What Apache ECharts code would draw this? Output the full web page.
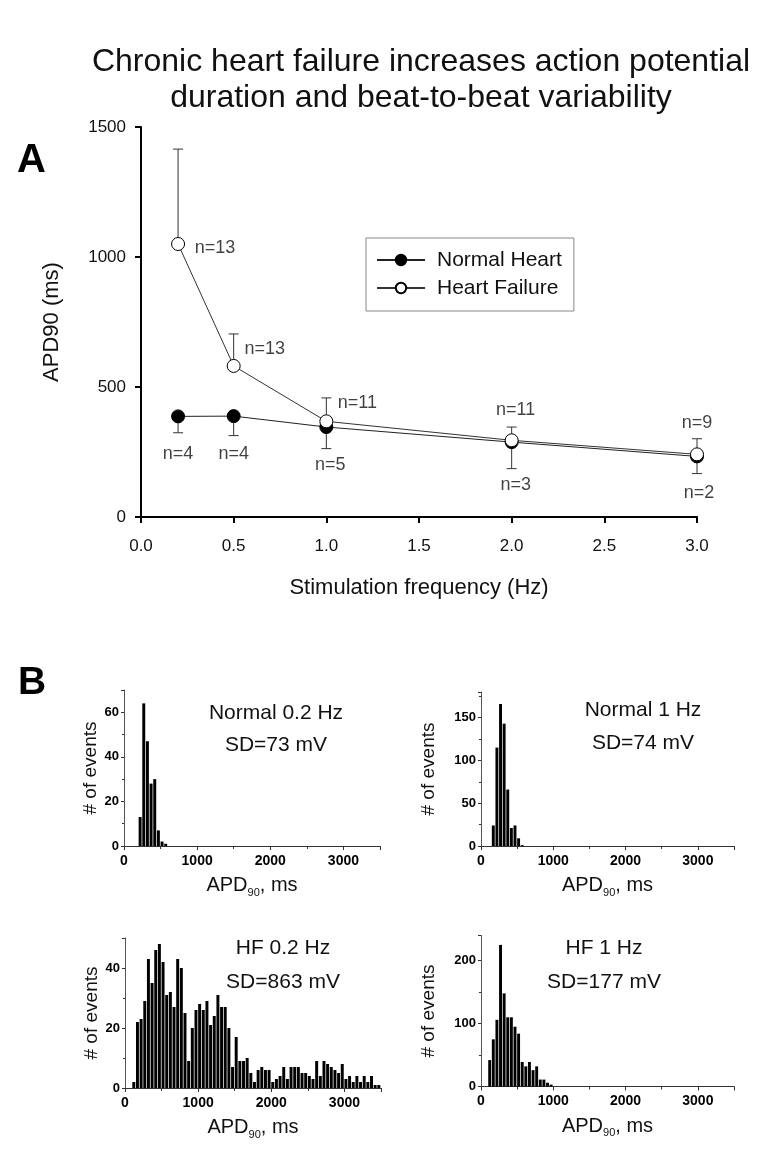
<!DOCTYPE html>
<html>
<head>
<meta charset="utf-8">
<script src="https://cdn.jsdelivr.net/npm/echarts@6/dist/echarts.min.js"></script>
<style>
html,body{margin:0;padding:0;background:#fff;}
#chart{width:769px;height:1162px;}
</style>
</head>
<body>
<div id="chart"></div>
<script>
// ---------- Panel A data ----------
const freqHz = [0.2, 0.5, 1.0, 2.0, 3.0];
const hfMean = [1050, 581, 368, 295, 241];
const hfErrTop = [1415, 704, 458, 346, 301];
const hfN = ['n=13', 'n=13', 'n=11', 'n=11', 'n=9'];
const nhMean = [387, 388, 346, 288, 233];
const nhErrBottom = [324, 313, 263, 186, 167];
const nhN = ['n=4', 'n=4', 'n=5', 'n=3', 'n=2'];

// ---------- Panel B data (histograms, 50 ms bins: left edge, count) ----------
const binWidthMs = 50;
const normal02Edges = [200, 250, 300, 350, 400, 450, 500, 550];
const normal02Counts = [13, 64, 47, 28, 30, 7, 2, 1];
const normal1Edges = [150, 200, 250, 300, 350, 400, 450, 500, 550];
const normal1Counts = [24, 115, 166, 143, 66, 21, 24, 9, 1];
const hf02Edges = [100, 150, 200, 250, 300, 350, 400, 450, 500, 550, 600, 650, 700, 750, 800, 850, 900, 950,
  1000, 1050, 1100, 1150, 1200, 1250, 1300, 1350, 1400, 1450, 1500, 1550, 1600, 1650, 1700, 1750, 1800, 1850,
  1900, 1950, 2000, 2050, 2100, 2150, 2200, 2250, 2300, 2350, 2400, 2450, 2500, 2550, 2600, 2650, 2700, 2750,
  2800, 2850, 2900, 2950, 3000, 3050, 3100, 3150, 3200, 3250, 3300, 3350, 3400, 3450];
const hf02Counts = [2, 22, 23, 29, 43, 35, 46, 48, 42, 31, 32, 27, 43, 40, 25, 9, 20, 26,
  28, 26, 29, 21, 24, 31, 27, 27, 20, 7, 17, 9, 9, 10, 5, 2, 6, 7,
  6, 6, 2, 3, 4, 7, 3, 7, 7, 7, 5, 5, 4, 3, 9, 4, 9, 8,
  7, 6, 5, 8, 3, 4, 2, 4, 2, 4, 2, 4, 1, 1];
const hf1Edges = [100, 150, 200, 250, 300, 350, 400, 450, 500, 550, 600, 650, 700, 750, 800, 850, 900, 950];
const hf1Counts = [42, 75, 106, 225, 148, 110, 110, 95, 84, 39, 32, 39, 26, 32, 11, 11, 6, 3];
const histTitles = ['Normal 0.2 Hz', 'Normal 1 Hz', 'HF 0.2 Hz', 'HF 1 Hz'];
const histSD = ['SD=73 mV', 'SD=74 mV', 'SD=863 mV', 'SD=177 mV'];

const FONT = '"Liberation Sans", Arial, Helvetica, sans-serif';
const chart = echarts.init(document.getElementById('chart'), null, {renderer: 'canvas'});

// label offsets (style) for the n= annotations
const hfLabelOffsets = [[37, 4], [31, -17], [31, -18], [4, -30], [0, -31]];
const nhLabelOffsets = [[0, 38], [0, 38], [4, 38], [4, 43], [2, 37]];

function zip(a, b) { return a.map((v, i) => [v, b[i]]); }

function errRender(params, api) {
  const x = api.value(0), m = api.value(1), e = api.value(2);
  const p0 = api.coord([x, m]);
  const p1 = api.coord([x, e]);
  const st = {stroke: '#333', lineWidth: 1};
  return {type: 'group', children: [
    {type: 'line', shape: {x1: p0[0], y1: p0[1], x2: p1[0], y2: p1[1]}, style: st},
    {type: 'line', shape: {x1: p1[0] - 5, y1: p1[1], x2: p1[0] + 5, y2: p1[1]}, style: st}
  ]};
}

function histRender(params, api) {
  const x0 = api.value(0), c = api.value(1);
  const pTop = api.coord([x0, c]);
  const pBot = api.coord([x0 + binWidthMs, 0]);
  return {type: 'rect', shape: {x: pTop[0], y: pTop[1], width: Math.max(0.5, pBot[0] - pTop[0] - 0.7), height: pBot[1] - pTop[1]},
    style: {fill: '#000'}};
}

const histGrids = [
  {left: 124, width: 256, top: 690, bottom: 316},
  {left: 481, width: 253, top: 692, bottom: 316},
  {left: 125, width: 256, top: 938, bottom: 74},
  {left: 481, width: 253, top: 935.5, bottom: 75.5}
];
const histY = [
  {max: 70, interval: 20},
  {max: 180, interval: 50},
  {max: 50, interval: 20},
  {max: 240, interval: 100}
];
const histData = [
  zip(normal02Edges, normal02Counts),
  zip(normal1Edges, normal1Counts),
  zip(hf02Edges, hf02Counts),
  zip(hf1Edges, hf1Counts)
];

const grids = [{left: 141, right: 72, top: 127, bottom: 645}].concat(histGrids);

const xAxes = [{
  gridIndex: 0, type: 'value', min: 0, max: 3, interval: 0.5,
  axisLine: {lineStyle: {color: '#000', width: 2}},
  axisTick: {length: 6, lineStyle: {color: '#000', width: 2}},
  splitLine: {show: false},
  axisLabel: {color: '#111', fontSize: 17, fontFamily: FONT, margin: 21, formatter: v => v.toFixed(1)},
  name: 'Stimulation frequency (Hz)', nameLocation: 'middle', nameGap: 60,
  nameTextStyle: {color: '#111', fontSize: 22, fontFamily: FONT}
}];
const yAxes = [{
  gridIndex: 0, type: 'value', min: 0, max: 1500, interval: 500,
  axisLine: {show: true, lineStyle: {color: '#000', width: 2}},
  axisTick: {show: true, length: 6, lineStyle: {color: '#000', width: 2}},
  splitLine: {show: false},
  axisLabel: {color: '#111', fontSize: 17, fontFamily: FONT, margin: 15, formatter: v => String(v)},
  name: 'APD90 (ms)', nameLocation: 'middle', nameGap: 78,
  nameTextStyle: {color: '#111', fontSize: 22, fontFamily: FONT}
}];

for (let i = 0; i < 4; i++) {
  xAxes.push({
    gridIndex: i + 1, type: 'value', min: 0, max: 3500, interval: 1000,
    axisLine: {lineStyle: {color: '#333', width: 1}},
    axisTick: {length: 4, lineStyle: {color: '#333'}},
    minorTick: {show: true, splitNumber: 2, length: 3, lineStyle: {color: '#333'}},
    splitLine: {show: false},
    axisLabel: {color: '#000', fontSize: 14, fontWeight: 'bold', fontFamily: FONT, margin: 8, showMaxLabel: false, formatter: v => String(v)},
    name: '{a|APD}{s|90}{a|, ms}', nameLocation: 'middle', nameGap: 27,
    nameTextStyle: {rich: {
      a: {fontSize: 20, fontFamily: FONT, color: '#111'},
      s: {fontSize: 11, fontFamily: FONT, color: '#111', padding: [14, 0, 0, 0]}
    }}
  });
  yAxes.push({
    gridIndex: i + 1, type: 'value', min: 0, max: histY[i].max, interval: histY[i].interval,
    axisLine: {show: true, lineStyle: {color: '#555', width: 1}},
    axisTick: {show: true, length: 3, lineStyle: {color: '#333'}},
    minorTick: {show: true, splitNumber: 2, length: 2, lineStyle: {color: '#333'}},
    splitLine: {show: false},
    axisLabel: {color: '#000', fontSize: 13, fontWeight: 'bold', fontFamily: FONT, margin: 5, showMaxLabel: false},
    name: '# of events', nameLocation: 'middle', nameGap: i % 2 === 0 ? 22 : 43,
    nameTextStyle: {color: '#111', fontSize: 19, fontFamily: FONT}
  });
}

const series = [
  {
    name: 'Normal Heart', type: 'line', xAxisIndex: 0, yAxisIndex: 0,
    data: zip(freqHz, nhMean), symbol: 'circle', symbolSize: 13,
    lineStyle: {color: '#222', width: 1}, itemStyle: {color: '#000', borderColor: '#000', borderWidth: 1},
    z: 3, animation: false
  },
  {
    type: 'custom', xAxisIndex: 0, yAxisIndex: 0, renderItem: errRender,
    data: freqHz.map((f, i) => [f, nhMean[i], nhErrBottom[i]]), z: 2, animation: false, silent: true
  },
  {
    type: 'custom', xAxisIndex: 0, yAxisIndex: 0, renderItem: errRender,
    data: freqHz.map((f, i) => [f, hfMean[i], hfErrTop[i]]), z: 2, animation: false, silent: true
  },
  {
    name: 'Heart Failure', type: 'line', xAxisIndex: 0, yAxisIndex: 0,
    data: zip(freqHz, hfMean), symbol: 'circle', symbolSize: 13,
    lineStyle: {color: '#333', width: 1}, itemStyle: {color: '#fff', borderColor: '#000', borderWidth: 1},
    z: 4, animation: false
  },
  {
    type: 'scatter', xAxisIndex: 0, yAxisIndex: 0, symbolSize: 0, silent: true, animation: false,
    data: freqHz.map((f, i) => ({value: [f, hfMean[i]], label: {offset: hfLabelOffsets[i]}, name: hfN[i]})),
    label: {show: true, position: 'inside', formatter: p => p.name, color: '#111', fontSize: 18, fontFamily: FONT}
  },
  {
    type: 'scatter', xAxisIndex: 0, yAxisIndex: 0, symbolSize: 0, silent: true, animation: false,
    data: freqHz.map((f, i) => ({value: [f, nhMean[i]], label: {offset: nhLabelOffsets[i]}, name: nhN[i]})),
    label: {show: true, position: 'inside', formatter: p => p.name, color: '#111', fontSize: 18, fontFamily: FONT}
  }
];
for (let i = 0; i < 4; i++) {
  series.push({
    type: 'custom', xAxisIndex: i + 1, yAxisIndex: i + 1, renderItem: histRender,
    data: histData[i], animation: false, silent: true
  });
}

const histTextPos = [
  {x: 276, y1: 713, y2: 745},
  {x: 643, y1: 710, y2: 743},
  {x: 283, y1: 948, y2: 982},
  {x: 604, y1: 948, y2: 982}
];
const graphics = [
  {type: 'text', left: 17, top: 141, style: {text: 'A', font: 'bold 40px ' + FONT, fill: '#000'}},
  {type: 'text', left: 18, top: 664, style: {text: 'B', font: 'bold 39px ' + FONT, fill: '#000'}}
];
histTextPos.forEach((p, i) => {
  graphics.push({type: 'text', x: p.x, y: p.y1, style: {text: histTitles[i], font: '21px ' + FONT, fill: '#111', textAlign: 'center', textVerticalAlign: 'middle'}});
  graphics.push({type: 'text', x: p.x, y: p.y2, style: {text: histSD[i], font: '21px ' + FONT, fill: '#111', textAlign: 'center', textVerticalAlign: 'middle'}});
});

chart.setOption({
  backgroundColor: '#fff',
  animation: false,
  title: {
    text: 'Chronic heart failure increases action potential\nduration and beat-to-beat variability',
    left: 416, top: 39, textAlign: 'center',
    textStyle: {fontSize: 32, fontWeight: 'normal', color: '#111', fontFamily: FONT, lineHeight: 36}
  },
  legend: {
    left: 366, top: 238, orient: 'vertical',
    data: ['Normal Heart', 'Heart Failure'],
    itemWidth: 48, itemHeight: 13, itemGap: 6,
    padding: [11, 12, 12, 10],
    borderColor: '#888', borderWidth: 1,
    textStyle: {fontSize: 21, fontFamily: FONT, color: '#111', lineHeight: 22, padding: [0, 0, 0, 7]}
  },
  grid: grids,
  xAxis: xAxes,
  yAxis: yAxes,
  series: series,
  graphic: graphics
});
</script>
</body>
</html>
